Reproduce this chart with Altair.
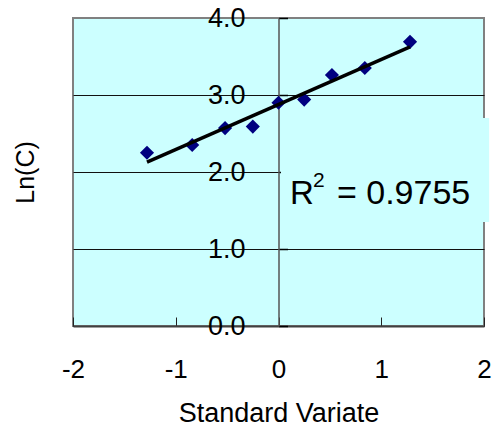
import altair as alt
import pandas as pd

# ---- data ----
std_variate = [-1.28, -0.84, -0.52, -0.25, 0.0, 0.25, 0.52, 0.84, 1.28]
ln_c = [2.25, 2.35, 2.57, 2.59, 2.90, 2.94, 3.26, 3.35, 3.69]
x_ticks = [-2, -1, 0, 1, 2]
y_ticks = [0, 1, 2, 3, 4]
r2_parts = ["R", "2", "= 0.9755"]

# ---- annotation placement (data coordinates) ----
label_box = {"x": 0.024, "x2": 2.05, "y": 1.35, "y2": 2.70}
r2_x = [0.112, 0.336, 0.569]
r2_y = [1.584, 1.805, 1.584]
r2_size = [33, 21, 34]

FONT = "Liberation Sans"
W, H = 411, 308

pts = pd.DataFrame({"x": std_variate, "y": ln_c})
box = pd.DataFrame([label_box])
r2 = pd.DataFrame({"x": r2_x, "y": r2_y, "t": r2_parts, "fs": r2_size})

xs = alt.Scale(domain=[-2, 2], nice=False, zero=False)
ys = alt.Scale(domain=[0, 4], nice=False, zero=False)

x_axis = alt.Axis(
    orient="top", offset=-H, values=x_ticks, title="Standard Variate",
    grid=False, domainColor="#404040", domainWidth=2,
    tickColor="#222222", tickWidth=1, tickSize=9,
    labelPadding=-60, labelBaseline="alphabetic", labelAlign="center",
    labelFont=FONT, labelFontSize=26, labelColor="black",
    labelFlush=False, labelOverlap=False, labelExpr="'' + datum.value",
    titleFont=FONT, titleFontSize=27, titleFontWeight="normal", titleColor="black",
    titleX=W / 2, titleY=95, titleAlign="center", titleBaseline="alphabetic", titleAngle=0,
)

y_axis = alt.Axis(
    orient="right", offset=-W / 2, values=y_ticks, title="Ln(C)",
    grid=True,
    gridColor={"condition": {"test": "datum.value >= 4", "value": "#808080"}, "value": "#111111"},
    gridWidth=1,
    domainColor="#555555", domainWidth=1.5,
    tickColor="black", tickWidth=1.5, tickSize=9,
    labelPadding=-42.5, labelAlign="right", labelBaseline="middle",
    labelFont=FONT, labelFontSize=27, labelColor="black",
    labelFlush=False, labelOverlap=False, labelExpr="format(datum.value, '.1f')",
    titleFont=FONT, titleFontSize=25, titleFontWeight="normal", titleColor="black",
    titleX=33 - (73 + W / 2), titleY=154, titleAlign="center", titleBaseline="alphabetic",
    titleAngle=270,
)

X = lambda f="x": alt.X(f, type="quantitative", scale=xs, axis=x_axis)
Y = lambda f="y": alt.Y(f, type="quantitative", scale=ys, axis=y_axis)

bg = alt.Chart(box).mark_rect(fill="#CCFFFF", stroke=None).encode(
    x=X("x"), x2="x2", y=Y("y"), y2="y2"
)

points = alt.Chart(pts).mark_point(
    shape="diamond", filled=True, size=200, color="#000080", opacity=1
).encode(x=X(), y=Y())

trend = alt.Chart(pts).transform_regression("x", "y").mark_line(
    color="black", strokeWidth=3.5
).encode(x=X(), y=Y())

texts = alt.Chart(r2).mark_text(
    align="left", baseline="alphabetic", font=FONT, color="black"
).encode(
    x=X(), y=Y(), text="t:N", size=alt.Size("fs:Q", scale=None, legend=None)
)

chart = alt.layer(bg, points, trend, texts).properties(
    width=W, height=H,
    autosize=alt.AutoSizeParams(type="none"),
    padding={"left": 73, "top": 18, "right": 14, "bottom": 107},
    background="white",
).configure_view(fill="#CCFFFF", stroke="#808080", strokeWidth=2)

chart.save("out.html", embed_options={"renderer": "svg", "actions": False})
